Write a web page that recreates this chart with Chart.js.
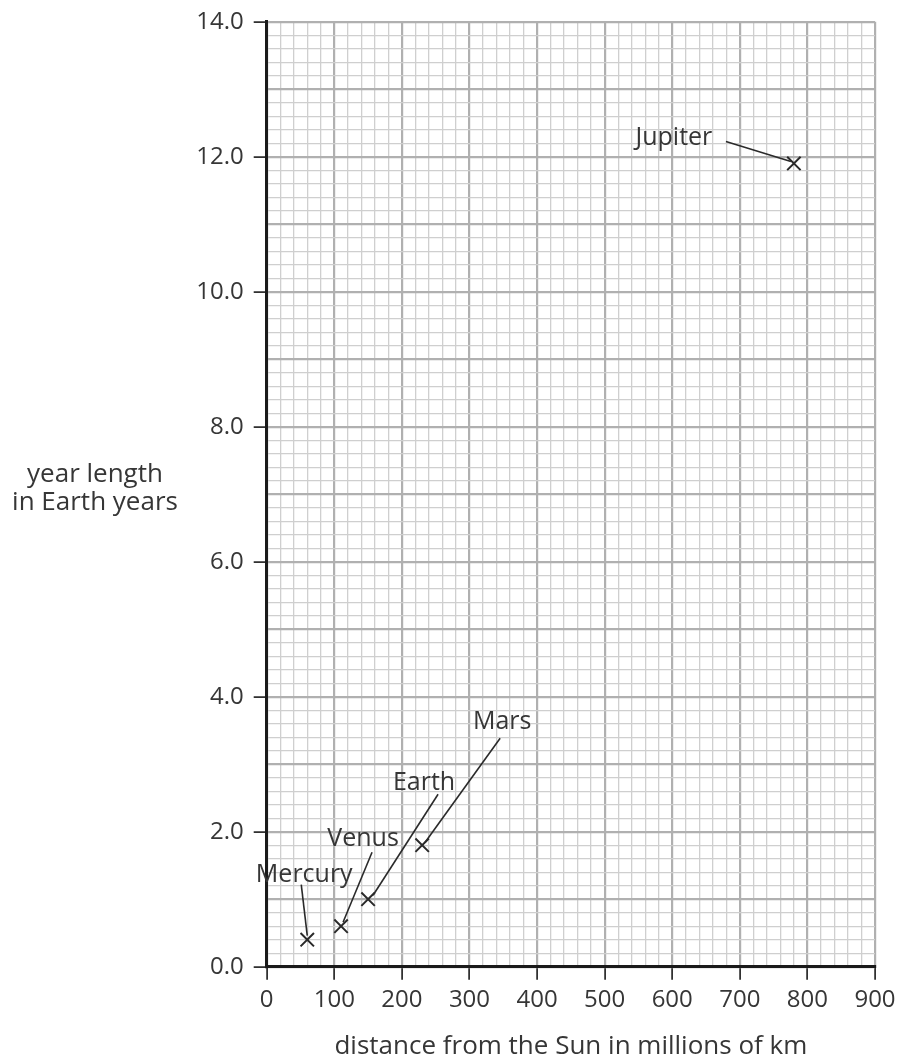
<!DOCTYPE html>
<html>
<head>
<meta charset="utf-8">
<script src="https://cdn.jsdelivr.net/npm/chart.js@4"></script>
<style>
  html, body { margin: 0; padding: 0; background: #fff; }
  #wrap { width: 899px; height: 1064px; }
</style>
</head>
<body>
<div id="wrap"><canvas id="orbitChart"></canvas></div>
<script>
// planets
const planets = ['Mercury', 'Venus', 'Earth', 'Mars', 'Jupiter'];
const distances = [60, 110, 150, 230, 780];   // millions of km
const yearLengths = [0.4, 0.6, 1.0, 1.8, 11.9]; // Earth years

const xTicks = ['0', '100', '200', '300', '400', '500', '600', '700', '800', '900'];
const yTicks = ['0.0', '2.0', '4.0', '6.0', '8.0', '10.0', '12.0', '14.0'];

const textColor = '#363636';
const fontFamily = "'Open Sans', sans-serif";

// where each label and its leader line sit, in px from the cross
const labelLayout = {
    Mercury: { label: [-3, -65], from: [-6, -55], to: [0, -4] },
    Venus:   { label: [22, -87], from: [31, -74], to: [2, -4] },
    Earth:   { label: [56, -116], from: [70, -105], to: [5, -4] },
    Mars:    { label: [80, -123], from: [78, -107], to: [3, -3] },
    Jupiter: { label: [-120, -26], from: [-68, -22], to: [-3, -2] }
};

const planetLabels = {
    id: 'planetLabels',
    afterDatasetsDraw(chart) {
        const { ctx, scales: { x, y } } = chart;
        ctx.save();
        ctx.strokeStyle = '#2a2a2a';
        ctx.lineWidth = 1.6;
        ctx.fillStyle = textColor;
        ctx.font = "25px " + fontFamily;
        ctx.textAlign = 'center';
        ctx.textBaseline = 'middle';
        planets.forEach((name, i) => {
            const px = x.getPixelForValue(distances[i]);
            const py = y.getPixelForValue(yearLengths[i]);
            const l = labelLayout[name];
            ctx.beginPath();
            ctx.moveTo(px + l.from[0], py + l.from[1]);
            ctx.lineTo(px + l.to[0], py + l.to[1]);
            ctx.stroke();
            ctx.fillText(name, px + l.label[0], py + l.label[1]);
        });
        ctx.restore();
    }
};

// horizontal two-line y title on the left
const yTitle = {
    id: 'yTitle',
    afterDraw(chart) {
        const { ctx } = chart;
        ctx.save();
        ctx.fillStyle = textColor;
        ctx.font = "26px " + fontFamily;
        ctx.textAlign = 'center';
        ctx.textBaseline = 'middle';
        ctx.fillText('year length', 95, 475);
        ctx.fillText('in Earth years', 95, 503);
        ctx.restore();
    }
};

const isMajorX = v => Math.round(v) % 100 === 0;
const isLabelY = v => Math.round(v * 10) % 20 === 0;
const isMajorY = v => Math.round(v * 10) % 10 === 0;

const ctx = document.getElementById('orbitChart').getContext('2d');
new Chart(ctx, {
    type: 'scatter',
    data: {
        datasets: [{
            label: 'planets',
            data: planets.map((_, i) => ({ x: distances[i], y: yearLengths[i] })),
            pointStyle: 'crossRot',
            pointRadius: 9.5,
            pointHoverRadius: 9.5,
            borderColor: '#2a2a2a',
            borderWidth: 2
        }]
    },
    options: {
        responsive: true,
        maintainAspectRatio: false,
        animation: false,
        layout: { padding: { top: 21.7, right: 24, left: 0, bottom: 0 } },
        plugins: {
            legend: { display: false },
            tooltip: { enabled: false }
        },
        scales: {
            x: {
                type: 'linear',
                min: 0,
                max: 900,
                afterFit: s => {
                    s.height = 97.3;
                    s.paddingLeft = 0;
                    s.paddingRight = 0;
                },
                border: { color: '#1a1a1a', width: 3 },
                grid: {
                    color: c => isMajorX(c.tick.value) ? '#b0b0b0' : '#cfcfcf',
                    lineWidth: c => isMajorX(c.tick.value) ? 2.2 : 1.3,
                    tickLength: 13,
                    tickColor: c => isMajorX(c.tick.value) ? '#1a1a1a' : 'rgba(0,0,0,0)',
                    tickWidth: 1.6
                },
                ticks: {
                    stepSize: 20,
                    autoSkip: false,
                    maxRotation: 0,
                    maxTicksLimit: 1000,
                    padding: 6,
                    color: textColor,
                    font: { family: fontFamily, size: 24 },
                    callback: v => isMajorX(v) ? xTicks[Math.round(v / 100)] : ''
                },
                title: {
                    display: true,
                    text: 'distance from the Sun in millions of km',
                    color: textColor,
                    font: { family: fontFamily, size: 26 },
                    padding: { top: 0, bottom: 2 }
                }
            },
            y: {
                type: 'linear',
                min: 0,
                max: 14,
                afterFit: s => {
                    s.width = 266.7;
                    s.paddingTop = 0;
                    s.paddingBottom = 0;
                },
                border: { color: '#1a1a1a', width: 3 },
                grid: {
                    color: c => isMajorY(c.tick.value) ? '#b0b0b0' : '#cfcfcf',
                    lineWidth: c => isMajorY(c.tick.value) ? 2.2 : 1.3,
                    tickLength: 13,
                    tickColor: c => isLabelY(c.tick.value) ? '#1a1a1a' : 'rgba(0,0,0,0)',
                    tickWidth: 1.6
                },
                ticks: {
                    stepSize: 0.2,
                    autoSkip: false,
                    maxTicksLimit: 1000,
                    padding: 10,
                    color: textColor,
                    font: { family: fontFamily, size: 24 },
                    callback: v => isLabelY(v) ? yTicks[Math.round(v / 2)] : ''
                }
            }
        }
    },
    plugins: [planetLabels, yTitle]
});
</script>
</body>
</html>
